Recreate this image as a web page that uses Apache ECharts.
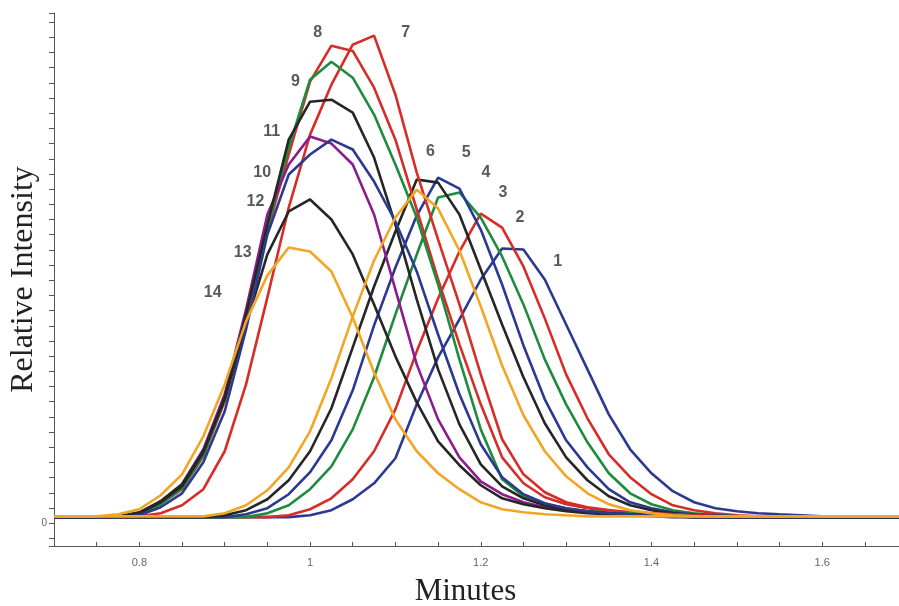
<!DOCTYPE html>
<html>
<head>
<meta charset="utf-8">
<title>Relative Intensity vs Minutes</title>
<script src="https://cdn.jsdelivr.net/npm/echarts@6/dist/echarts.min.js"></script>
<style>
  html, body { margin: 0; padding: 0; background: #fff; }
  #chart { width: 899px; height: 606px; }
</style>
</head>
<body>
<div id="chart"></div>
<script>
// sampling times (minutes)
const minutes = [0.7, 0.725, 0.75, 0.775, 0.8, 0.825, 0.85, 0.875, 0.9, 0.925,
  0.95, 0.975, 1.0, 1.025, 1.05, 1.075, 1.1, 1.125, 1.15, 1.175,
  1.2, 1.225, 1.25, 1.275, 1.3, 1.325, 1.35, 1.375, 1.4, 1.425,
  1.45, 1.475, 1.5, 1.525, 1.55, 1.575, 1.6, 1.625, 1.65, 1.675, 1.7];

// relative intensity for each run
const run1 = [0.4,0.4,0.4,0.4,0.4,0.4,0.4,0.4,0.4,0.4,0.4,0.4,0.53,0.86,1.58,2.63,4.28,7.83,10.92,13.42,16.05,18.09,18.03,16.05,13.09,10.13,7.17,4.87,3.29,2.11,1.38,0.99,0.79,0.66,0.59,0.53,0.46,0.46,0.46,0.46,0.46];
const run2 = [0.4,0.4,0.4,0.4,0.4,0.4,0.4,0.4,0.4,0.4,0.4,0.53,0.92,1.64,2.89,4.74,7.5,11.32,14.8,17.89,20.39,19.47,16.91,13.49,9.8,6.91,4.54,3.03,1.91,1.18,0.86,0.66,0.53,0.46,0.4,0.4,0.4,0.4,0.4,0.4,0.4];
const run3 = [0.4,0.4,0.4,0.4,0.4,0.4,0.4,0.4,0.4,0.4,0.66,1.18,2.24,3.75,6.18,9.61,13.75,17.7,21.45,21.78,20.13,17.57,14.41,10.79,7.83,5.33,3.29,1.97,1.25,0.86,0.66,0.53,0.46,0.4,0.4,0.4,0.4,0.4,0.4,0.4,0.4];
const run4 = [0.4,0.4,0.4,0.4,0.4,0.4,0.4,0.4,0.4,0.59,0.99,1.91,3.36,5.46,8.75,13.03,16.84,20.26,22.76,22.04,19.34,15.72,11.71,8.16,5.46,3.68,2.24,1.38,0.99,0.72,0.59,0.53,0.46,0.4,0.4,0.4,0.4,0.4,0.4,0.4,0.4];
const run5 = [0.4,0.4,0.4,0.4,0.4,0.4,0.4,0.4,0.53,0.86,1.58,2.83,4.74,7.57,11.58,15.59,19.21,22.63,22.43,20.33,16.71,13.09,9.61,6.58,4.34,2.83,1.78,1.18,0.86,0.66,0.53,0.46,0.4,0.4,0.4,0.4,0.4,0.4,0.4,0.4,0.4];
const run6 = [0.45,0.45,0.45,0.45,0.45,0.45,0.45,0.45,0.66,1.18,2.17,3.68,6.05,9.54,13.62,17.3,20.13,21.97,20.72,17.96,14.28,10.39,7.11,4.74,3.09,1.97,1.25,0.86,0.66,0.53,0.45,0.45,0.45,0.45,0.45,0.45,0.45,0.45,0.45,0.45,0.45];
const run7 = [0.4,0.4,0.4,0.4,0.46,0.66,1.18,2.24,4.74,9.14,14.87,20.79,25.59,28.88,31.51,32.11,28.22,23.09,18.68,14.41,9.8,5.53,3.22,2.04,1.38,1.05,0.86,0.72,0.66,0.59,0.53,0.46,0.4,0.4,0.4,0.4,0.4,0.4,0.4,0.4,0.4];
const run8 = [0.4,0.4,0.4,0.4,0.59,1.25,2.24,4.41,8.03,13.55,19.21,24.28,29.08,31.45,31.1,28.68,25.26,20.66,16.05,11.78,7.83,4.34,2.63,1.71,1.25,0.99,0.79,0.72,0.66,0.59,0.53,0.46,0.4,0.4,0.4,0.4,0.4,0.4,0.4,0.4,0.4];
const run9 = [0.4,0.4,0.4,0.4,0.59,1.25,2.3,4.47,8.16,13.68,19.47,24.74,29.21,30.39,29.34,26.91,23.62,20.13,15.72,10.79,6.18,2.89,1.78,1.25,0.99,0.79,0.72,0.66,0.59,0.53,0.46,0.4,0.4,0.4,0.4,0.4,0.4,0.4,0.4,0.4,0.4];
const run10 = [0.4,0.4,0.4,0.46,0.66,1.45,2.57,4.87,8.49,14.08,20.33,23.62,25.46,25.0,23.62,20.33,15.39,10.46,6.84,4.34,2.76,1.91,1.38,1.05,0.86,0.72,0.66,0.59,0.53,0.46,0.4,0.4,0.4,0.4,0.4,0.4,0.4,0.4,0.4,0.4,0.4];
const run11 = [0.4,0.4,0.4,0.4,0.66,1.38,2.43,4.67,8.29,13.75,19.67,25.26,27.76,27.89,27.04,24.08,19.67,14.74,10.13,6.51,3.88,2.43,1.64,1.18,0.92,0.79,0.66,0.59,0.53,0.46,0.4,0.4,0.4,0.4,0.4,0.4,0.4,0.4,0.4,0.4,0.4];
const run12 = [0.4,0.4,0.4,0.46,0.72,1.45,2.57,4.74,8.16,13.09,17.7,20.53,21.32,20.0,17.7,14.41,10.99,7.96,5.39,3.82,2.5,1.64,1.25,0.99,0.79,0.66,0.59,0.53,0.46,0.4,0.4,0.4,0.4,0.4,0.4,0.4,0.4,0.4,0.4,0.4,0.4];
const run13 = [0.45,0.45,0.45,0.59,0.92,1.84,3.22,5.72,9.14,13.29,16.32,18.16,17.89,16.58,13.55,9.93,6.84,4.74,3.29,2.24,1.38,0.92,0.72,0.59,0.53,0.45,0.45,0.45,0.45,0.45,0.45,0.45,0.45,0.45,0.45,0.45,0.45,0.45,0.45,0.45,0.45];
const run14 = [0.4,0.4,0.4,0.4,0.53,1.05,1.97,4.01,7.37,12.76,19.01,22.96,24.28,25.26,24.61,22.5,19.87,16.58,12.43,8.49,5.2,3.03,1.91,1.32,0.99,0.79,0.66,0.59,0.53,0.46,0.4,0.4,0.4,0.4,0.4,0.4,0.4,0.4,0.4,0.4,0.4];

const runs = [run1, run2, run3, run4, run5, run6, run7, run8, run9, run10, run11, run12, run13, run14];
const runNames = ['1', '2', '3', '4', '5', '6', '7', '8', '9', '10', '11', '12', '13', '14'];

// curve number labels (data coordinates)
const labelText = ['1', '2', '3', '4', '5', '6', '7', '8', '9', '10', '11', '12', '13', '14'];
const labelX = [1.29, 1.246, 1.226, 1.206, 1.183, 1.141, 1.112, 1.009, 0.983, 0.944, 0.955, 0.936, 0.921, 0.886];
const labelY = [17.2, 20.1, 21.8, 23.1, 24.4, 24.5, 32.3, 32.3, 29.1, 23.1, 25.8, 21.2, 17.8, 15.2];

const BLUE = '#2b3a90', RED = '#d62d28', GREEN = '#1e8c3e', BLACK = '#262626',
      ORANGE = '#f2a623', PURPLE = '#8c1c8c';
const colors = [BLUE, RED, GREEN, BLUE, BLACK, ORANGE, RED, RED, GREEN, PURPLE, BLACK, BLACK, ORANGE, BLUE];

const chart = echarts.init(document.getElementById('chart'));

const lineSeries = runs.map((vals, i) => ({
  name: runNames[i],
  type: 'line',
  data: minutes.map((m, j) => [m, vals[j]]),
  symbol: 'none',
  smooth: false,
  lineStyle: { width: 2.6, color: colors[i] },
  itemStyle: { color: colors[i] },
  z: colors[i] === ORANGE ? 4 : 3
}));

const labelSeries = {
  type: 'scatter',
  symbolSize: 1,
  itemStyle: { color: 'rgba(0,0,0,0)' },
  data: labelText.map((t, i) => ({ name: t, value: [labelX[i], labelY[i]] })),
  label: {
    show: true,
    position: 'inside',
    formatter: '{b}',
    fontFamily: 'Liberation Sans',
    fontWeight: 'bold',
    fontSize: 16,
    color: '#303030'
  },
  z: 10
};

chart.setOption({
  animation: false,
  backgroundColor: '#fff',
  grid: { left: 54, right: 0, top: 13, bottom: 60, containLabel: false, outerBoundsMode: 'none' },
  xAxis: {
    type: 'value',
    min: 0.7,
    max: 1.69,
    interval: 0.05,
    name: 'Minutes',
    nameLocation: 'middle',
    nameGap: 30,
    nameMoveOverlap: false,
    nameTextStyle: { fontFamily: 'Liberation Serif', fontSize: 31, color: '#222', padding: [0, 22, 0, 0] },
    axisLine: { onZero: false, lineStyle: { color: '#555', width: 1 } },
    axisTick: { inside: true, length: 4, lineStyle: { color: '#555' } },
    axisLabel: {
      color: '#666',
      fontSize: 11,
      margin: 11,
      formatter: v => {
        const k = Math.round(v * 20);
        return k % 4 === 0 ? String(k / 20) : '';
      }
    },
    splitLine: { show: false }
  },
  yAxis: {
    type: 'value',
    min: -1.5,
    max: 33.6,
    minInterval: 1,
    maxInterval: 1,
    name: 'Relative Intensity',
    nameLocation: 'middle',
    nameGap: 14,
    nameMoveOverlap: false,
    nameTextStyle: { fontFamily: 'Liberation Serif', fontSize: 32, color: '#222' },
    axisLine: { show: true, onZero: false, lineStyle: { color: '#555', width: 1 } },
    axisTick: { show: true, length: 5, lineStyle: { color: '#555' } },
    axisLabel: { color: '#666', fontSize: 10, margin: 7, formatter: v => (v === 0 ? '0' : '') },
    splitLine: { show: false }
  },
  series: [...lineSeries, labelSeries]
});

window.addEventListener('resize', () => chart.resize());
</script>
</body>
</html>
